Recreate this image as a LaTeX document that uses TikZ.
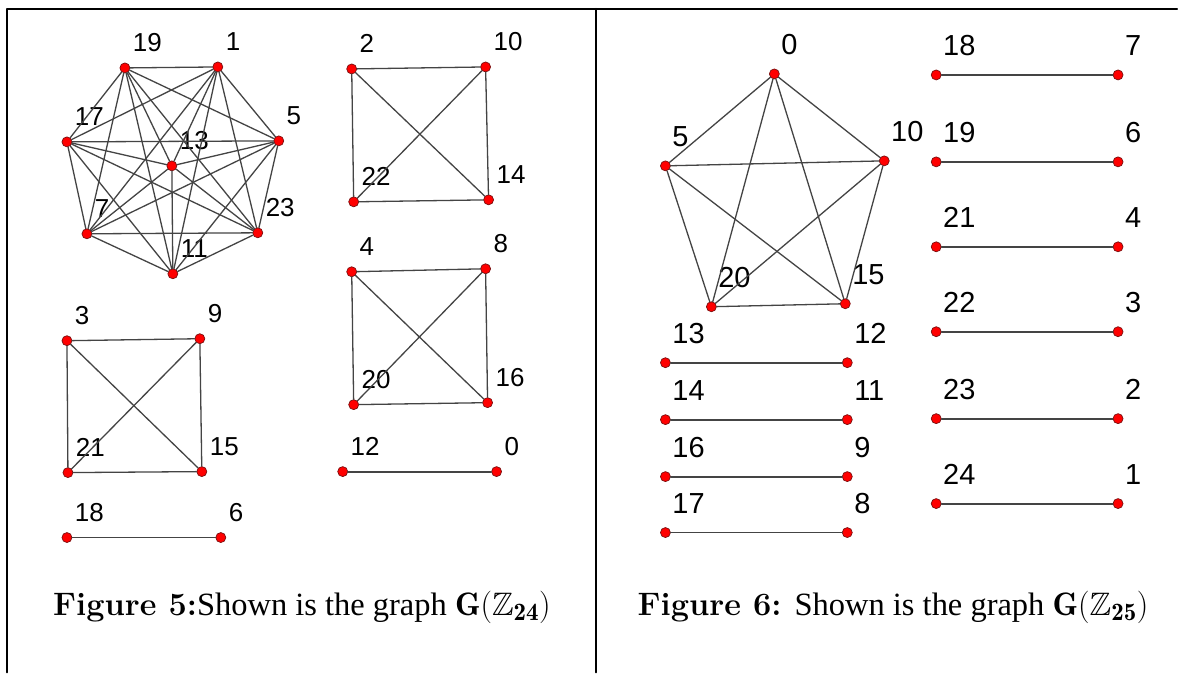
\documentclass[tikz,border=0pt]{standalone}
\usepackage{fix-cm}
\usepackage{amssymb}
\usepackage{fontspec}
\newfontfamily\numfont{Liberation Sans}
\newfontfamily\capfont{Liberation Serif}
\DeclareMathSizes{32.5}{32.5}{25}{19}
\usetikzlibrary{calc}
\definecolor{dotRed}{HTML}{FF0000}
\definecolor{dotRim}{HTML}{7A1010}
\definecolor{edgeGray}{HTML}{444444}

\begin{document}
\begin{tikzpicture}[x=1pt,y=-1pt,line cap=round,line join=round]
\path[fill=white] (0,0) rectangle (1178,673);
\tikzset{vtx/.style={circle,draw=dotRim,fill=dotRed,inner sep=0pt,minimum size=10pt,line width=0.7pt},
  edge/.style={draw=edgeGray,line width=1.3pt},
  pair/.style={draw=edgeGray,line width=1.9pt},
  numL/.style={label={[font=\numfont\fontsize{26}{26}\selectfont,inner sep=0pt,xshift=4pt,yshift=12pt]above right:#1}},
  numR/.style={label={[font=\numfont\fontsize{29}{29}\selectfont,inner sep=0pt,xshift=3pt,yshift=15pt]above right:#1}},
  rule/.style={draw=black,line width=2pt},
  caption/.style={anchor=base west,inner sep=0pt,font=\fontsize{32.5}{32.5}\selectfont}}
% frame of the two panels
\draw[rule] (7,673) -- (7,9) -- (1178,9);
\draw[rule] (597,9) -- (597,673);
% G(Z_24): the units
\node[vtx,numL=19] (a19) at (125,68) {};
\node[vtx,numL=1] (a1) at (218,67) {};
\node[vtx,numL=5] (a5) at (279,141) {};
\node[vtx,numL=23] (a23) at (258,233) {};
\node[vtx,numL=11] (a11) at (173,274) {};
\node[vtx,numL=7] (a7) at (87,234) {};
\node[vtx,numL=17] (a17) at (67,142) {};
\node[vtx,numL=13] (a13) at (172,166) {};
\foreach \u [count=\i] in {19,1,5,23,11,7,17,13}
  \foreach \v [count=\j] in {19,1,5,23,11,7,17,13}
    {\ifnum\j>\i \draw[edge] (a\u) -- (a\v); \fi}
% the three K4
\node[vtx,numL=2] (a2) at (352,69) {};
\node[vtx,numL=10] (a10) at (486,67) {};
\node[vtx,numL=22] (a22) at (354,202) {};
\node[vtx,numL=14] (a14) at (489,200) {};
\draw[edge] (a2) -- (a10) -- (a14) -- (a22) -- (a2) -- (a14) (a10) -- (a22);
\node[vtx,numL=4] (a4) at (352,272) {};
\node[vtx,numL=8] (a8) at (486,269) {};
\node[vtx,numL=20] (a20) at (354,405) {};
\node[vtx,numL=16] (a16) at (488,403) {};
\draw[edge] (a4) -- (a8) -- (a16) -- (a20) -- (a4) -- (a16) (a8) -- (a20);
\node[vtx,numL=3] (a3) at (67,341) {};
\node[vtx,numL=9] (a9) at (200,339) {};
\node[vtx,numL=21] (a21) at (68,473) {};
\node[vtx,numL=15] (a15) at (202,472) {};
\draw[edge] (a3) -- (a9) -- (a15) -- (a21) -- (a3) -- (a15) (a9) -- (a21);
% single edges
\node[vtx,numL=12] (a12) at (343,472) {};
\node[vtx,numL=0] (a0) at (497,472) {};
\draw[pair] (a12) -- (a0);
\node[vtx,numL=18] (a18) at (67,538) {};
\node[vtx,numL=6] (a6) at (221,538) {};
\draw[pair] (a18) -- (a6);
\node[caption] (cap5) at (53,616) {\textbf{Figure 5:}\capfont Shown is the graph $\mathbf{G}(\mathbb{Z}_{\mathbf{24}})$};
% G(Z_25): the K5 on the multiples of 5
\node[vtx,numR=0] (b0) at (775,74) {};
\node[vtx,numR=10] (b10) at (885,161) {};
\node[vtx,numR=15] (b15) at (846,304) {};
\node[vtx,numR=20] (b20) at (712,307) {};
\node[vtx,numR=5] (b5) at (666,166) {};
\foreach \u [count=\i] in {0,10,15,20,5}
  \foreach \v [count=\j] in {0,10,15,20,5}
    {\ifnum\j>\i \draw[edge] (b\u) -- (b\v); \fi}
% the matching, left column
\node[vtx,numR=13] (b13) at (666,363) {};
\node[vtx,numR=12] (b12) at (848,363) {};
\node[vtx,numR=14] (b14) at (666,420) {};
\node[vtx,numR=11] (b11) at (848,420) {};
\node[vtx,numR=16] (b16) at (666,477) {};
\node[vtx,numR=9] (b9) at (848,477) {};
\node[vtx,numR=17] (b17) at (666,533) {};
\node[vtx,numR=8] (b8) at (848,533) {};
\draw[pair] (b13) -- (b12) (b14) -- (b11) (b16) -- (b9) (b17) -- (b8);
% the matching, right column
\node[vtx,numR=18] (b18) at (937,75) {};
\node[vtx,numR=7] (b7) at (1119,75) {};
\node[vtx,numR=19] (b19) at (937,162) {};
\node[vtx,numR=6] (b6) at (1119,162) {};
\node[vtx,numR=21] (b21) at (937,247) {};
\node[vtx,numR=4] (b4) at (1119,247) {};
\node[vtx,numR=22] (b22) at (937,332) {};
\node[vtx,numR=3] (b3) at (1119,332) {};
\node[vtx,numR=23] (b23) at (937,419) {};
\node[vtx,numR=2] (b2) at (1119,419) {};
\node[vtx,numR=24] (b24) at (937,504) {};
\node[vtx,numR=1] (b1) at (1119,504) {};
\draw[pair] (b18) -- (b7) (b19) -- (b6) (b21) -- (b4) (b22) -- (b3) (b23) -- (b2) (b24) -- (b1);
\node[caption] (cap6) at (638,616) {\textbf{Figure 6:} \capfont Shown is the graph $\mathbf{G}(\mathbb{Z}_{\mathbf{25}})$};
\end{tikzpicture}
\end{document}
